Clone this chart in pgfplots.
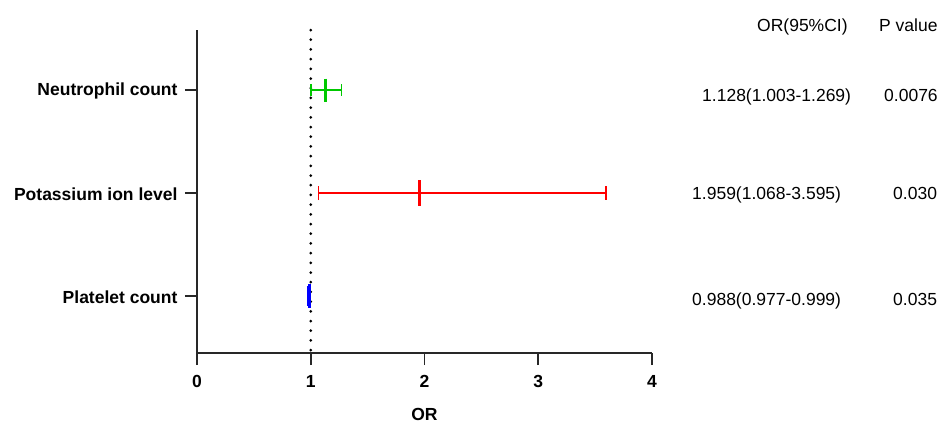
\documentclass[border=0pt]{standalone}
\usepackage{pgfplots}
\pgfplotsset{compat=1.18}
\usepackage{fontspec}
\setmainfont{Liberation Sans}
\definecolor{cgreen}{RGB}{0,200,0}
\definecolor{cred}{RGB}{255,0,0}
\definecolor{cblue}{RGB}{0,0,255}
\definecolor{axcol}{RGB}{40,40,40}
\newcommand{\fs}{\fontsize{17.5}{21}\selectfont}
\begin{document}
\begin{tikzpicture}[x=1pt,y=1pt]
\path[use as bounding box] (0,0) rectangle (939,-423);
\begin{axis}[at={(197pt,-353pt)}, anchor=south west, scale only axis,
  width=455pt, height=323pt,
  xmin=0, xmax=4, ymin=0.447, ymax=3.583,
  xtick={0,1,2,3,4}, ytick={1,2,3},
  yticklabels={Platelet count, Potassium ion level, Neutrophil count},
  axis x line*=bottom, axis y line*=left,
  axis line style={-, line width=1.6pt, axcol},
  tick style={line width=1.6pt, axcol}, major tick length=12pt, tick align=outside,
  ticklabel style={font=\fs\bfseries},
  xticklabel style={yshift=-7pt},
  yticklabel style={xshift=-4pt, yshift=-1pt},
  /pgf/number format/assume math mode=true,
  xlabel={OR},
  xlabel style={font=\fs\bfseries, at={(axis description cs:0.5,0)}, anchor=base, yshift=-67.5pt},
  clip=false]
% reference line at OR = 1
\addplot[black, line width=3pt, line cap=round, dash pattern=on 0pt off 9.7pt] coordinates {(1,3.583) (1,0.447)};
% Neutrophil count
\addplot[cgreen, only marks, mark=|, mark size=11.5pt, mark options={line width=3pt},
  error bars/.cd, x dir=both, x explicit, error mark=|,
  error mark options={cgreen, line width=1.5pt, mark size=6pt},
  error bar style={line width=1.5pt}]
  coordinates {(1.128,3) += (0.141,0) -= (0.125,0)};
% Potassium ion level
\addplot[cred, only marks, mark=|, mark size=13pt, mark options={line width=3pt},
  error bars/.cd, x dir=both, x explicit, error mark=|,
  error mark options={cred, line width=1.5pt, mark size=7pt},
  error bar style={line width=1.5pt}]
  coordinates {(1.959,2) += (1.636,0) -= (0.891,0)};
% Platelet count
\addplot[cblue, only marks, mark=|, mark size=12pt, mark options={line width=3pt},
  error bars/.cd, x dir=both, x explicit, error mark=|,
  error mark options={cblue, line width=1.5pt, mark size=10pt},
  error bar style={line width=1.5pt}]
  coordinates {(0.988,1) += (0.011,0) -= (0.011,0)};
\end{axis}
\begin{scope}[every node/.style={inner sep=0pt, anchor=base west, font=\fs}]
\node at (757,-31.3) {OR(95\%CI)};
\node at (879,-31.3) {P value};
\node at (702,-101.3) {1.128(1.003-1.269)};
\node at (884,-101.3) {0.0076};
\node at (692,-199.3) {1.959(1.068-3.595)};
\node at (893,-199.3) {0.030};
\node at (692,-305.3) {0.988(0.977-0.999)};
\node at (893,-305.3) {0.035};
\end{scope}
\end{tikzpicture}
\end{document}
